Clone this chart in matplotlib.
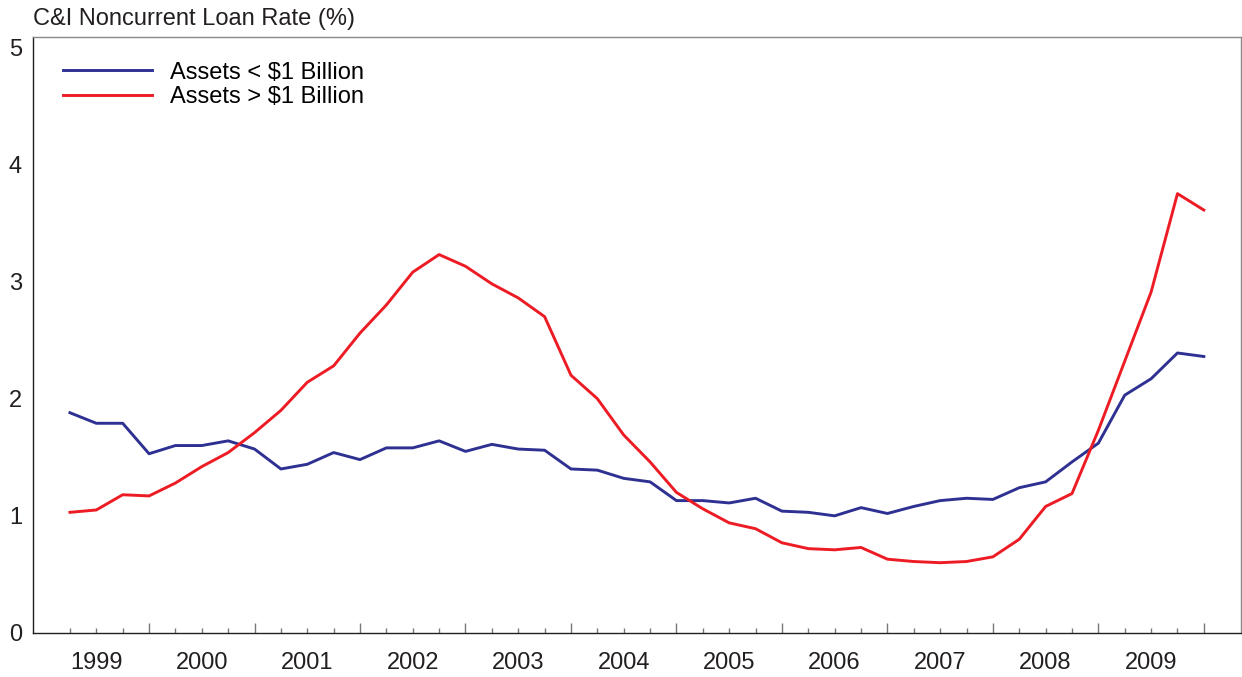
import numpy as np
import matplotlib
matplotlib.use("Agg")
import matplotlib.pyplot as plt

# --------------------------
# DATA (quarterly)
# --------------------------
years = [str(y) for y in range(1999, 2010)]

small_banks = [
    1.88, 1.79, 1.79, 1.53, 1.60, 1.60, 1.64, 1.57, 1.40, 1.44, 1.54,
    1.48, 1.58, 1.58, 1.64, 1.55, 1.61, 1.57, 1.56, 1.40, 1.39, 1.32,
    1.29, 1.13, 1.13, 1.11, 1.15, 1.04, 1.03, 1.00, 1.07, 1.02, 1.08,
    1.13, 1.15, 1.14, 1.24, 1.29, 1.46, 1.62, 2.03, 2.17, 2.39, 2.36,
]
large_banks = [
    1.03, 1.05, 1.18, 1.17, 1.28, 1.42, 1.54, 1.71, 1.90, 2.14, 2.28,
    2.56, 2.80, 3.08, 3.23, 3.13, 2.98, 2.86, 2.70, 2.20, 2.00, 1.69,
    1.46, 1.20, 1.06, 0.94, 0.89, 0.77, 0.72, 0.71, 0.73, 0.63, 0.61,
    0.60, 0.61, 0.65, 0.80, 1.08, 1.19, 1.73, 2.32, 2.91, 3.75, 3.61,
]

BLUE = "#2e3192"
RED = "#ed1c24"
TEXT = "#231f20"

plt.rcParams["font.family"] = ["Liberation Sans", "DejaVu Sans"]

# --------------------------
# PLOT
# --------------------------
fig = plt.figure(figsize=(12.42, 6.77), dpi=100)
ax = fig.add_axes([0.0266, 0.065, 0.9724, 0.880])

x = np.arange(len(small_banks))
ax.plot(x, small_banks, color=BLUE, lw=2.1, label="Assets < $1 Billion")
ax.plot(x, large_banks, color=RED, lw=2.1, label="Assets > $1 Billion")

ax.set_xlim(-1.4, 44.4)
ax.set_ylim(0, 5.085)

# y axis: labels only
ax.set_yticks(range(6))
ax.tick_params(axis="y", length=0, pad=8, labelsize=17, labelcolor=TEXT)

# x axis: long ticks at year ends, short ticks each quarter
major = list(range(3, len(x), 4))
minor = [i for i in x if i not in major]
ax.set_xticks(major)
ax.set_xticks(minor, minor=True)
ax.set_xticklabels([])
ax.tick_params(axis="x", which="major", direction="in", length=7.5, width=1, color="#777777")
ax.tick_params(axis="x", which="minor", direction="in", length=3.5, width=1, color="#777777")

# year labels centred between the year-end ticks
sec = ax.secondary_xaxis("bottom")
sec.set_xticks(range(1, len(x), 4))
sec.set_xticklabels(years)
sec.tick_params(length=0, pad=14, labelsize=17, labelcolor=TEXT)
sec.spines["bottom"].set_visible(False)

for side in ["left", "bottom"]:
    ax.spines[side].set_color(TEXT)
    ax.spines[side].set_linewidth(1.0)
for side in ["top", "right"]:
    ax.spines[side].set_color("#888888")
    ax.spines[side].set_linewidth(1.0)

ax.legend(loc="upper left", bbox_to_anchor=(0.017, 0.975), frameon=False,
          fontsize=17, handlelength=3.77, handletextpad=0.76, labelspacing=0.1,
          borderaxespad=0)

fig.text(0.0266, 0.972, "C&I Noncurrent Loan Rate (%)", fontsize=17,
         color=TEXT, ha="left", va="center")

fig.savefig("out.png", dpi=100)
